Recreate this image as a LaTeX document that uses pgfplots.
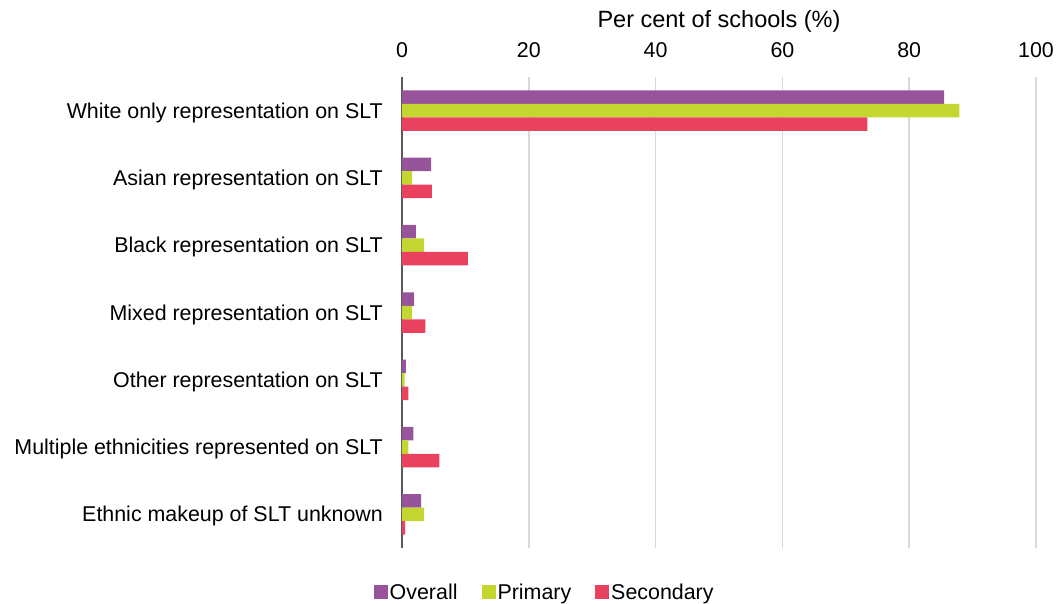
\documentclass[border=0pt]{standalone}
\usepackage{fontspec}
\setmainfont{Liberation Sans}
\usepackage{pgfplots}
\pgfplotsset{compat=1.18}
\definecolor{cOverall}{RGB}{151,84,155}
\definecolor{cPrimary}{RGB}{196,214,48}
\definecolor{cSecondary}{RGB}{234,66,94}
\definecolor{gridgray}{RGB}{217,217,217}
\definecolor{axisgray}{RGB}{89,89,89}
\newcommand{\chartfont}{\fontsize{21.4}{25}\selectfont}
\begin{document}
\begin{tikzpicture}
\useasboundingbox (-402pt,-55pt) rectangle (654pt,548pt);
\begin{axis}[
  at={(0pt,0pt)}, anchor=south west,
  scale only axis, width=634pt, height=471pt,
  xbar, bar width=13.5pt,
  xmin=0, xmax=100,
  ymin=-0.5, ymax=6.5, y dir=reverse,
  ytick={0,...,6},
  yticklabels={White only representation on SLT, Asian representation on SLT, Black representation on SLT, Mixed representation on SLT, Other representation on SLT, Multiple ethnicities represented on SLT, Ethnic makeup of SLT unknown},
  xtick={0,20,...,100},
  /pgf/number format/assume math mode=true,
  axis x line*=top, axis y line*=left,
  x axis line style={draw=none},
  y axis line style={draw=axisgray, line width=1.6pt},
  major tick length=0pt,
  xmajorgrids, grid style={draw=gridgray, line width=1.5pt},
  tick label style={font=\chartfont, text=black},
  yticklabel style={anchor=base east, inner sep=0pt, xshift=-19pt, yshift=-7.5pt},
  xticklabel style={anchor=base, inner sep=0pt, yshift=20pt},
  xlabel={Per cent of schools (\%)},
  xlabel style={font=\fontsize{23.5}{27}\selectfont, at={(axis description cs:0.5,1)}, anchor=base, yshift=50pt, inner sep=0pt},
  legend columns=3,
  legend style={draw=none, fill=none, font=\chartfont, at={(0.225,-0.0934)}, anchor=center,
    /tikz/every even column/.append style={column sep=22pt}},
  legend image code/.code={\fill[#1] (0pt,-7pt) rectangle (14pt,7pt);},
  legend cell align=left,
]
\addplot[fill=cOverall, draw=none, bar shift=13.5pt] coordinates {(85.5,0) (4.6,1) (2.2,2) (1.9,3) (0.6,4) (1.8,5) (3.0,6)};
\addplot[fill=cPrimary, draw=none, bar shift=0pt] coordinates {(87.9,0) (1.6,1) (3.5,2) (1.6,3) (0.4,4) (1.0,5) (3.5,6)};
\addplot[fill=cSecondary, draw=none, bar shift=-13.5pt] coordinates {(73.4,0) (4.7,1) (10.4,2) (3.7,3) (1.0,4) (5.9,5) (0.5,6)};
\legend{Overall, Primary, Secondary}
\end{axis}
\end{tikzpicture}
\end{document}
